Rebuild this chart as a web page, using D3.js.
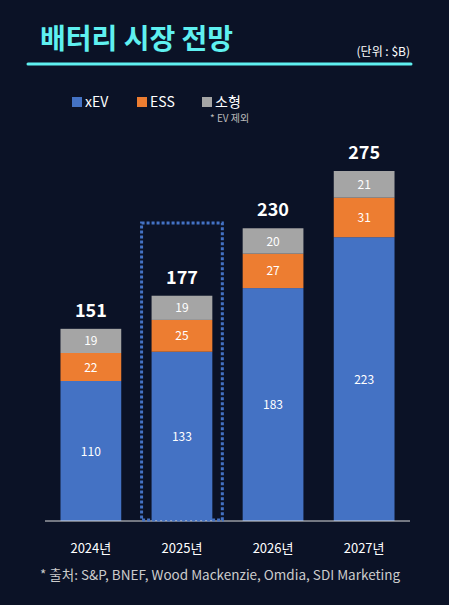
<!DOCTYPE html>
<html><head><meta charset="utf-8">
<script src="https://cdn.jsdelivr.net/npm/d3@7"></script>
<style>body{margin:0;background:#0b1226;}svg{display:block;font-family:"Noto Sans CJK KR","Noto Sans",sans-serif;}</style>
</head><body>
<script>
const years = ["2024년","2025년","2026년","2027년"];
const xev = [110,133,183,223];
const ess = [22,25,27,31];
const small = [19,19,20,21];
const totals = [151,177,230,275];
const seriesNames = ["xEV","ESS","소형"];
const colors = ["#4472c4","#ed7d31","#a5a5a5"];

const W=449,H=605;
const svg=d3.select("body").append("svg").attr("width",W).attr("height",H);
svg.append("rect").attr("width",W).attr("height",H).attr("fill","#0b1226");
svg.append("text").attr("x",40).attr("y",49).attr("fill","#5ff0f0").attr("font-size",28).attr("font-weight",700).text("배터리 시장 전망");
svg.append("line").attr("x1",28).attr("x2",411).attr("y1",64).attr("y2",64).attr("stroke","#5ff0f0").attr("stroke-width",3).attr("stroke-linecap","round");
svg.append("text").attr("x",410).attr("y",56).attr("text-anchor","end").attr("fill","#fff").attr("font-size",12).text("(단위 : $B)");

const lx=[72,137,202];
seriesNames.forEach((n,i)=>{
  svg.append("rect").attr("x",lx[i]).attr("y",97).attr("width",10).attr("height",10).attr("fill",colors[i]);
  svg.append("text").attr("x",lx[i]+13).attr("y",107).attr("fill","#fff").attr("font-size",14).text(n);
});
svg.append("text").attr("x",210).attr("y",122).attr("fill","#bbb").attr("font-size",10).text("* EV 제외");

const x=d3.scaleBand().domain(years).range([45,410]).paddingInner(0.333).paddingOuter(0.17);
const y=d3.scaleLinear().domain([0,275]).range([521,171]);
const data=years.map((yr,i)=>({yr,xEV:xev[i],ESS:ess[i],"소형":small[i]}));
const stack=d3.stack().keys(seriesNames)(data);
stack.forEach((s,si)=>{
  s.forEach((d,i)=>{
    const g=svg.append("g");
    g.append("rect").attr("x",x(years[i])).attr("width",x.bandwidth()).attr("y",y(d[1])).attr("height",y(d[0])-y(d[1])).attr("fill",colors[si]);
    const v=d[1]-d[0];
    g.append("text").attr("x",x(years[i])+x.bandwidth()/2).attr("y",(y(d[1])+y(d[0]))/2+4.5).attr("text-anchor","middle").attr("fill","#fff").attr("font-size",12).text(v);
  });
});
years.forEach((yr,i)=>{
  svg.append("text").attr("x",x(yr)+x.bandwidth()/2).attr("y",y(totals[i])-12).attr("text-anchor","middle").attr("fill","#fff").attr("font-size",18).attr("font-weight",700).text(totals[i]);
  svg.append("text").attr("x",x(yr)+x.bandwidth()/2).attr("y",553).attr("text-anchor","middle").attr("fill","#fff").attr("font-size",13).text(yr);
});
svg.append("line").attr("x1",45).attr("x2",410).attr("y1",521).attr("y2",521).attr("stroke","#ddd").attr("stroke-width",1);
const bx=x(years[1]);
svg.append("rect").attr("x",bx-10).attr("y",223).attr("width",x.bandwidth()+20).attr("height",297).attr("fill","none").attr("stroke","#4472c4").attr("stroke-width",3).attr("stroke-dasharray","3,2");
svg.append("text").attr("x",40).attr("y",580).attr("fill","#ccc").attr("font-size",13.5).text("* 출처: S&P, BNEF, Wood Mackenzie, Omdia, SDI Marketing");
</script>
</body></html>
